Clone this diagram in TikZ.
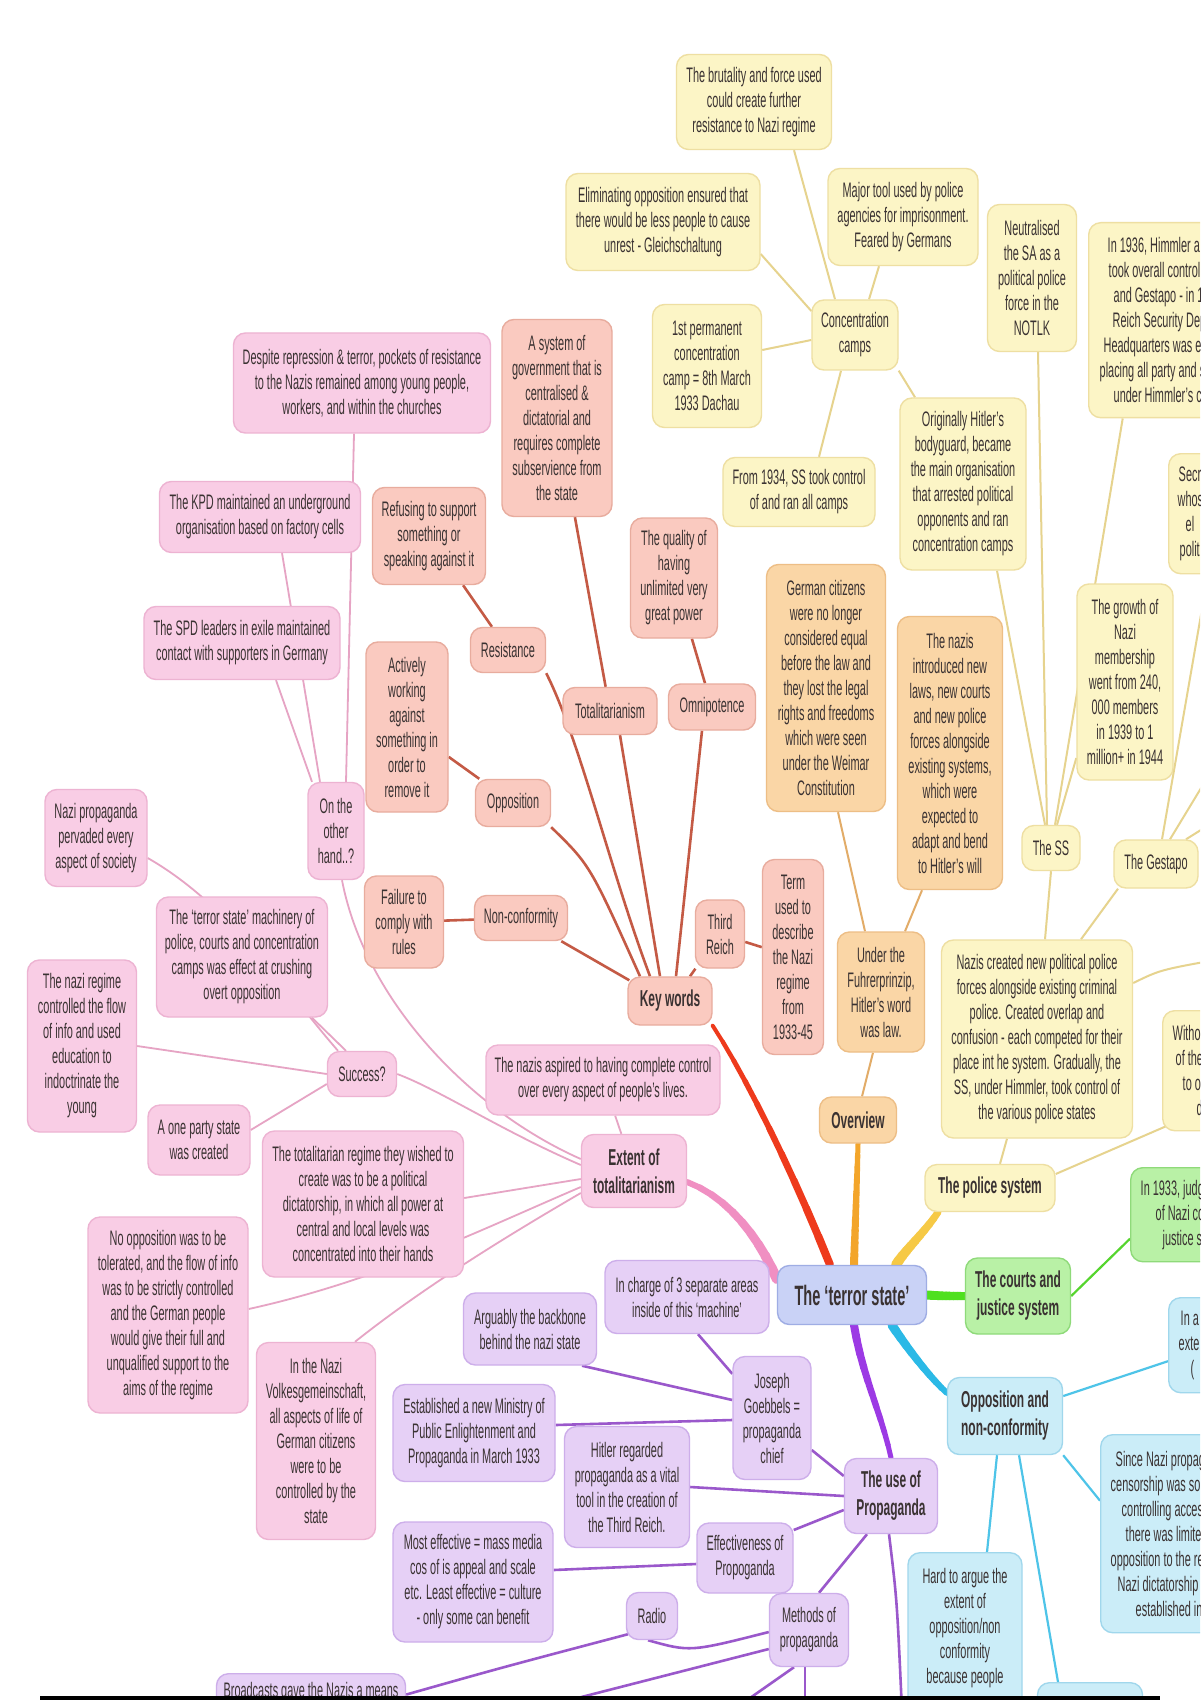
\documentclass[tikz,border=0pt]{standalone}
\usepackage{fontspec}
\setmainfont[FakeStretch=0.52]{Liberation Sans}
\pgfdeclarelayer{bg}
\pgfsetlayers{bg,main}
\definecolor{txt}{HTML}{3A3232}
\definecolor{yfill}{HTML}{FCF5C6}
\definecolor{ydraw}{HTML}{EEDFA2}
\definecolor{ofill}{HTML}{FAD6A6}
\definecolor{odraw}{HTML}{EDBE86}
\definecolor{sfill}{HTML}{FACAC0}
\definecolor{sdraw}{HTML}{E8AC9E}
\definecolor{pfill}{HTML}{F9CDE5}
\definecolor{pdraw}{HTML}{EDB3D2}
\definecolor{ufill}{HTML}{E6D0F6}
\definecolor{udraw}{HTML}{CDAEEA}
\definecolor{gfill}{HTML}{B9F1A6}
\definecolor{gdraw}{HTML}{8FDA7A}
\definecolor{lfill}{HTML}{CBEDF8}
\definecolor{ldraw}{HTML}{A0D7EC}
\definecolor{cfill}{HTML}{C9D2F6}
\definecolor{cdraw}{HTML}{9FADE4}
\definecolor{salc}{HTML}{C45A45}
\definecolor{pnkc}{HTML}{E6A4C4}
\definecolor{purc}{HTML}{9A58CB}
\definecolor{yelc}{HTML}{E6D38E}
\definecolor{orgc}{HTML}{E2AC68}
\definecolor{bluc}{HTML}{4EC4E8}
\definecolor{grnc}{HTML}{55D52E}
\definecolor{redM}{HTML}{EE3A1C}
\definecolor{orgM}{HTML}{F3A52A}
\definecolor{yelM}{HTML}{F6C945}
\definecolor{grnM}{HTML}{4FE01F}
\definecolor{cyaM}{HTML}{2BB9E6}
\definecolor{purM}{HTML}{9C3AE4}
\definecolor{pnkM}{HTML}{F08FC2}
\newcommand\mmsmall{\fontsize{10.5}{12.5}\selectfont}
\newcommand\mmbold{\fontsize{11.5}{14}\selectfont\bfseries}
\newcommand\mmroot{\fontsize{14}{16}\selectfont\bfseries}
\newcommand\taperline[7]{%
  \path #2 .. controls #3 and #4 .. #5
    coordinate[pos=0] (tp0) coordinate[pos=0.1] (tp1) coordinate[pos=0.2] (tp2)
    coordinate[pos=0.3] (tp3) coordinate[pos=0.4] (tp4) coordinate[pos=0.5] (tp5)
    coordinate[pos=0.6] (tp6) coordinate[pos=0.7] (tp7) coordinate[pos=0.8] (tp8)
    coordinate[pos=0.9] (tp9) coordinate[pos=1] (tp10);
  \foreach \i/\j in {0/1,1/2,2/3,3/4,4/5,5/6,6/7,7/8,8/9,9/10}{%
    \pgfmathsetmacro\tw{(#6+(#7-#6)*\i/9)*0.5}%
    \draw[#1, line width=\tw pt, line cap=round] (tp\i) -- (tp\j);}%
}
\tikzset{
  sz/.style 2 args={minimum width=#1*0.5pt, minimum height=#2*0.5pt},
  mmbase/.style={rounded corners=6pt, align=center, font=\mmsmall, text=txt, inner sep=1pt, line width=0.7pt},
  ybox/.style={mmbase, fill=yfill, draw=ydraw},
  obox/.style={mmbase, fill=ofill, draw=odraw},
  sbox/.style={mmbase, fill=sfill, draw=sdraw},
  pbox/.style={mmbase, fill=pfill, draw=pdraw},
  ubox/.style={mmbase, fill=ufill, draw=udraw},
  gbox/.style={mmbase, fill=gfill, draw=gdraw},
  lbox/.style={mmbase, fill=lfill, draw=ldraw},
  hd/.style={font=\mmbold},
  cutbox/.style={align=flush left, anchor=north west},
  salL/.style={draw=salc, line width=1.3pt},
  pnkL/.style={draw=pnkc, line width=0.9pt},
  purL/.style={draw=purc, line width=1.3pt},
  yelL/.style={draw=yelc, line width=1pt},
  orgL/.style={draw=orgc, line width=1pt},
  bluL/.style={draw=bluc, line width=1.1pt},
  grnL/.style={draw=grnc, line width=1.1pt}
}
\begin{document}
\begin{tikzpicture}[x=0.5pt,y=-0.5pt]
\useasboundingbox (0,0) rectangle (1200,1700);
\clip (0,0) rectangle (1200,1700);

% ---------- yellow: police system ----------
\node[ybox, sz={155}{95}] (brut) at (754,102) {The brutality and force used\\could create further\\resistance to Nazi regime};
\node[ybox, sz={194}{97}] (elim) at (663,222) {Eliminating opposition ensured that\\there would be less people to cause\\unrest - Gleichschaltung};
\node[ybox, sz={150}{97}] (major) at (903,217) {Major tool used by police\\agencies for imprisonment.\\Feared by Germans};
\node[ybox, sz={86}{70}] (cc) at (855,335) {Concentration\\camps};
\node[ybox, sz={109}{123}] (first) at (707,366) {1st permanent\\concentration\\camp = 8th March\\1933 Dachau};
\node[ybox, sz={89}{147}] (neut) at (1032,278) {Neutralised\\the SA as a\\political police\\force in the\\NOTLK};
\node[ybox, cutbox, sz={10}{195}, inner xsep=5.5pt, text width=75pt] (himm) at (1088,222) {\hspace*{4pt}In 1936, Himmler a\\\hspace*{4.5pt}took overall control\\\hspace*{7pt}and Gestapo - in 1\\\hspace*{6.5pt}Reich Security Dep\\\hspace*{2pt}Headquarters was e\\placing all party and s\\\hspace*{7pt}under Himmler's c};
\node[ybox, sz={152}{69}] (from34) at (799,492) {From 1934, SS took control\\of and ran all camps};
\node[ybox, sz={126}{172}] (orig) at (963,484) {Originally Hitler's\\bodyguard, became\\the main organisation\\that arrested political\\opponents and ran\\concentration camps};
\node[ybox, sz={58}{45}] (ss) at (1051,848) {The SS};
\node[ybox, sz={96}{196}] (growth) at (1125,682) {The growth of\\Nazi\\membership\\went from 240,\\000 members\\in 1939 to 1\\million+ in 1944};
\node[ybox, sz={84}{48}] (gest) at (1156,864) {The Gestapo};
\node[ybox, cutbox, sz={10}{120}, inner xsep=4.5pt, text width=60pt] (secr) at (1168,453) {\hspace*{0.5pt}Secr\\whos\\\hspace*{4pt}el\\\hspace*{1pt}polit};
\node[ybox, sz={191}{198}] (nazcr) at (1037,1039) {Nazis created new political police\\forces alongside existing criminal\\police. Created overlap and\\confusion - each competed for their\\place int he system. Gradually, the\\SS, under Himmler, took control of\\the various police states};
\node[ybox, cutbox, sz={10}{120}, inner xsep=5pt, text width=60pt] (withx) at (1162,1010) {Witho\\\hspace*{1.5pt}of the\\\hspace*{5pt}to o\\\hspace*{12pt}d};
\node[ybox, hd, sz={130}{47}] (police) at (990,1188) {The police system};

% ---------- orange: overview ----------
\node[obox, sz={119}{247}] (germ) at (826,688) {German citizens\\were no longer\\considered equal\\before the law and\\they lost the legal\\rights and freedoms\\which were seen\\under the Weimar\\Constitution};
\node[obox, sz={105}{273}] (introd) at (950,753) {The nazis\\introduced new\\laws, new courts\\and new police\\forces alongside\\existing systems,\\which were\\expected to\\adapt and bend\\to Hitler's will};
\node[obox, sz={87}{120}] (under) at (881,992) {Under the\\Fuhrerprinzip,\\Hitler's word\\was law.};
\node[obox, hd, sz={77}{46}] (overview) at (858,1120) {Overview};

% ---------- root ----------
\node[mmbase, fill=cfill, draw=cdraw, font=\mmroot, sz={149}{59}] (root) at (852,1295) {The `terror state'};

% ---------- green ----------
\node[gbox, hd, sz={105}{76}] (courts) at (1018,1296) {The courts and\\justice system};
\node[gbox, cutbox, sz={10}{94}, inner xsep=5pt, text width=60pt] (in1933) at (1130,1167) {In 1933, judg\\\hspace*{7.5pt}of Nazi co\\\hspace*{11pt}justice s};

% ---------- blue ----------
\node[lbox, hd, sz={115}{77}] (opp) at (1005,1416) {Opposition and\\non-conformity};
\node[lbox, cutbox, sz={10}{95}, inner xsep=5pt, text width=40pt] (ina) at (1168,1297) {\hspace*{1pt}In a\\exte\\\hspace*{6pt}(};
\node[lbox, cutbox, sz={10}{198}, inner xsep=5pt, text width=80pt] (since) at (1100,1434) {\hspace*{2.5pt}Since Nazi propag\\censorship was so\\\hspace*{5.5pt}controlling acces\\\hspace*{7.5pt}there was limite\\opposition to the re\\\hspace*{3.5pt}Nazi dictatorship\\\hspace*{12.5pt}established in};
\node[lbox, anchor=north, sz={114}{10}, inner ysep=8pt] (hard) at (965,1552) {Hard to argue the\\extent of\\opposition/non\\conformity\\because people\\\strut};
\node[lbox, anchor=north, sz={105}{40}] (bsmall) at (1090,1682) {};

% ---------- purple ----------
\node[ubox, hd, sz={93}{75}] (useprop) at (891,1496) {The use of\\Propaganda};
\node[ubox, sz={164}{73}] (incharge) at (687,1297) {In charge of 3 separate areas\\inside of this `machine'};
\node[ubox, sz={133}{72}] (arguably) at (530,1329) {Arguably the backbone\\behind the nazi state};
\node[ubox, sz={78}{123}] (joseph) at (772,1418) {Joseph\\Goebbels =\\propaganda\\chief};
\node[ubox, sz={162}{97}] (establ) at (474,1433) {Established a new Ministry of\\Public Enlightenment and\\Propaganda in March 1933};
\node[ubox, sz={125}{121}] (hitler) at (627,1487) {Hitler regarded\\propaganda as a vital\\tool in the creation of\\the Third Reich.};
\node[ubox, sz={160}{120}] (most) at (473,1582) {Most effective = mass media\\cos of is appeal and scale\\etc. Least effective = culture\\- only some can benefit};
\node[ubox, sz={96}{70}] (effect) at (745,1558) {Effectiveness of\\Propoganda};
\node[ubox, sz={51}{47}] (radio) at (652,1616) {Radio};
\node[ubox, sz={79}{73}] (methods) at (809,1630) {Methods of\\propaganda};
\node[ubox, anchor=north, sz={189}{10}, inner ysep=4.5pt] (broad) at (311,1673) {Broadcasts gave the Nazis a means\\\strut};

% ---------- pink ----------
\node[pbox, hd, sz={105}{73}] (extent) at (634,1171) {Extent of\\totalitarianism};
\node[pbox, sz={234}{70}] (aspired) at (603,1080) {The nazis aspired to having complete control\\over every aspect of people's lives.};
\node[pbox, sz={201}{146}] (totreg) at (363,1204) {The totalitarian regime they wished to\\create was to be a political\\dictatorship, in which all power at\\central and local levels was\\concentrated into their hands};
\node[pbox, sz={160}{196}] (noopp) at (168,1315) {No opposition was to be\\tolerated, and the flow of info\\was to be strictly controlled\\and the German people\\would give their full and\\unqualified support to the\\aims of the regime};
\node[pbox, sz={119}{197}] (volk) at (316,1441) {In the Nazi\\Volkesgemeinschaft,\\all aspects of life of\\German citizens\\were to be\\controlled by the\\state};
\node[pbox, sz={69}{45}] (success) at (362,1074) {Success?};
\node[pbox, sz={171}{120}] (machinery) at (242,957) {The `terror state' machinery of\\police, courts and concentration\\camps was effect at crushing\\overt opposition};
\node[pbox, sz={109}{172}] (nazireg) at (82,1046) {The nazi regime\\controlled the flow\\of info and used\\education to\\indoctrinate the\\young};
\node[pbox, sz={102}{70}] (oneparty) at (199,1140) {A one party state\\was created};
\node[pbox, sz={102}{97}] (pervaded) at (96,838) {Nazi propaganda\\pervaded every\\aspect of society};
\node[pbox, sz={56}{97}] (otherhand) at (336,831) {On the\\other\\hand..?};
\node[pbox, sz={196}{73}] (spd) at (242,643) {The SPD leaders in exile maintained\\contact with supporters in Germany};
\node[pbox, sz={201}{71}] (kpd) at (260,517) {The KPD maintained an underground\\organisation based on factory cells};
\node[pbox, sz={257}{100}] (despite) at (362,383) {Despite repression \& terror, pockets of resistance\\to the Nazis remained among young people,\\workers, and within the churches};

% ---------- salmon: key words ----------
\node[sbox, hd, sz={84}{48}] (keywords) at (670,1001) {Key words};
\node[sbox, sz={110}{197}] (system) at (557,418) {A system of\\government that is\\centralised \&\\dictatorial and\\requires complete\\subservience from\\the state};
\node[sbox, sz={113}{97}] (refusing) at (429,536) {Refusing to support\\something or\\speaking against it};
\node[sbox, sz={75}{45}] (resistance) at (508,650) {Resistance};
\node[sbox, sz={87}{120}] (quality) at (674,578) {The quality of\\having\\unlimited very\\great power};
\node[sbox, sz={94}{47}] (totalit) at (610,711) {Totalitarianism};
\node[sbox, sz={87}{46}] (omni) at (712,707) {Omnipotence};
\node[sbox, sz={82}{170}] (actively) at (407,727) {Actively\\working\\against\\something in\\order to\\remove it};
\node[sbox, sz={75}{47}] (opposition) at (513,803) {Opposition};
\node[sbox, sz={79}{92}] (failure) at (404,922) {Failure to\\comply with\\rules};
\node[sbox, sz={93}{45}] (nonconf) at (521,918) {Non-conformity};
\node[sbox, sz={49}{68}] (third) at (720,934) {Third\\Reich};
\node[sbox, sz={61}{195}] (term) at (793,957) {Term\\used to\\describe\\the Nazi\\regime\\from\\1933-45};

% off-picture ends
\coordinate (offr1) at (1215,960);
\coordinate (offr2) at (1215,765);
\coordinate (offr3) at (1220,818);
\coordinate (offb1) at (902,1712);
\coordinate (offb2) at (730,1712);
\coordinate (offb3) at (805,1712);
\coordinate (offb4) at (523,1712);

% bottom bar
\fill[black] (40,1696) rectangle (1160,1700);

\begin{pgfonlayer}{bg}
\fill[white] (0,0) rectangle (1200,1700);
\clip (0,0) rectangle (1200,1700);
% main branches
\taperline{redM}{(keywords.south east)}{(745,1075)}{(792,1170)}{([xshift=-11pt]root.north)}{4}{8}
\taperline{orgM}{(overview.south)}{(857,1180)}{(855,1230)}{([xshift=1pt]root.north)}{5}{8}
\taperline{yelM}{([xshift=-26pt]police.south)}{(925,1232)}{(905,1250)}{([xshift=22pt]root.north)}{7}{10}
\taperline{grnM}{(courts.west)}{(952,1296)}{(940,1296)}{(root.east)}{8}{9}
\taperline{cyaM}{([yshift=-8pt]opp.north west)}{(930,1378)}{(905,1345)}{([xshift=20pt]root.south)}{6}{9}
\taperline{purM}{(useprop.north)}{(882,1415)}{(862,1375)}{([xshift=1pt]root.south)}{5}{8}
\taperline{pnkM}{([yshift=-5.5pt]extent.east)}{(730,1198)}{(760,1240)}{([yshift=8pt]root.west)}{6}{10}

% salmon
\draw[salL] (refusing) -- (resistance);
\draw[salL] (system) -- (totalit);
\draw[salL] (quality) -- (omni);
\draw[salL] (actively) -- (opposition);
\draw[salL] (failure) -- (nonconf);
\draw[salL] (term) -- (third);
\draw[salL] (resistance.south east) .. controls (580,740) and (610,870) .. ([xshift=-10pt]keywords.north);
\draw[salL] ([xshift=5pt]totalit.south) -- ([xshift=-5pt]keywords.north);
\draw[salL] ([xshift=-5pt]omni.south) -- ([xshift=3pt]keywords.north);
\draw[salL] (opposition.south east) .. controls (590,865) .. ([xshift=-15pt]keywords.north);
\draw[salL] (nonconf) -- ([xshift=1pt,yshift=-2pt]keywords.north west);
\draw[salL] (third) -- ([xshift=10pt]keywords.north);

% orange
\draw[orgL] ([xshift=2pt]overview.north) -- ([xshift=-4pt]under.south);
\draw[orgL] ([xshift=-8pt]under.north) -- ([xshift=6pt]germ.south);
\draw[orgL] ([xshift=12pt]under.north) -- ([xshift=-14pt]introd.south);

% yellow
\draw[yelL] ([xshift=-10pt]cc.north) -- ([xshift=20pt]brut.south);
\draw[yelL] ([yshift=12pt]cc.west) -- ([yshift=-16pt]elim.east);
\draw[yelL] ([xshift=7pt]cc.north) -- ([xshift=-12pt]major.south);
\draw[yelL] ([yshift=-2.5pt]cc.west) -- ([yshift=8pt]first.east);
\draw[yelL] ([xshift=-7pt]cc.south) -- ([xshift=10pt]from34.north);
\draw[yelL] (cc.south east) -- ([xshift=-24pt]orig.north);
\draw[yelL] ([xshift=17pt]orig.south) -- ([xshift=-3pt]ss.north);
\draw[yelL] ([xshift=3pt]neut.south) -- ([xshift=-2pt]ss.north);
\draw[yelL] ([xshift=2pt]ss.north) -- ([xshift=-26pt]himm.south);
\draw[yelL] ([xshift=3pt]ss.north) -- ([yshift=-38pt]growth.west);
\draw[yelL] ([xshift=4pt]nazcr.north) -- (ss.south);
\draw[yelL] ([xshift=22pt]nazcr.north) -- ([xshift=-19pt]gest.south);
\draw[yelL] ([xshift=3pt]gest.north) -- ([xshift=20pt]secr.south west);
\draw[yelL] ([xshift=7pt]gest.north) -- (offr2);
\draw[yelL] ([xshift=15pt]gest.north) -- (offr3);
\draw[yelL] ([yshift=28pt]nazcr.east) .. controls (1160,970) .. (offr1);
\draw[yelL] ([xshift=5pt]police.north) -- ([xshift=-15pt]nazcr.south);
\draw[yelL] ([yshift=7pt]police.east) -- ([xshift=3pt,yshift=3pt]withx.south west);

% green
\draw[grnL] (courts.east) -- ([yshift=-12pt]in1933.west);

% blue
\draw[bluL] ([yshift=10pt]opp.east) -- ([yshift=-8pt]ina.west);
\draw[bluL] (opp.south east) -- ([yshift=16.5pt]since.west);
\draw[bluL] ([xshift=-4pt]opp.south) -- ([xshift=11pt]hard.north);
\draw[bluL] ([xshift=7pt]opp.south) -- ([xshift=-16pt]bsmall.north);

% purple
\draw[purL] ([xshift=5.5pt]incharge.south) -- ([yshift=-9pt]joseph.north west);
\draw[purL] ([xshift=26pt]arguably.south) -- ([yshift=9pt]joseph.west);
\draw[purL] ([yshift=4pt]establ.east) -- ([yshift=-1pt]joseph.west);
\draw[purL] ([yshift=-16pt]joseph.east) -- ([yshift=10pt]useprop.west);
\draw[purL] (hitler.east) -- (useprop.west);
\draw[purL] ([yshift=14pt]effect.east) -- ([yshift=-7pt]useprop.west);
\draw[purL] ([yshift=6pt]most.east) -- ([yshift=-3pt]effect.west);
\draw[purL] ([xshift=-2pt]radio.south) .. controls (690,1652) .. ([yshift=-1pt]methods.west);
\draw[purL] ([xshift=5pt]methods.north) -- ([xshift=-12pt]useprop.south);
\draw[purL] ([yshift=6pt]broad.east) .. controls (500,1668) .. ([xshift=-12pt,yshift=3pt]radio.south);
\draw[purL] ([xshift=-1pt]useprop.south) .. controls (897,1600) .. (offb1);
\draw[purL] ([xshift=-7.5pt]methods.south) -- (offb2);
\draw[purL] ([xshift=-2pt]methods.south) -- (offb3);
\draw[purL] ([yshift=-9.5pt]methods.west) -- (offb4);

% pink
\draw[pnkL] (extent) -- (aspired);
\draw[pnkL] ([yshift=6pt]extent.west) .. controls (470,1110) and (365,1000) .. ([xshift=3pt]otherhand.south);
\draw[pnkL] ([yshift=3pt]extent.west) .. controls (500,1130) and (440,1090) .. (success.east);
\draw[pnkL] ([yshift=-4pt]extent.west) -- ([yshift=3pt]totreg.east);
\draw[pnkL] ([yshift=-8pt]extent.west) .. controls (480,1230) and (380,1280) .. ([yshift=3pt]noopp.east);
\draw[pnkL] ([yshift=-11pt]extent.west) .. controls (500,1240) and (420,1290) .. ([xshift=19.5pt]volk.north);
\draw[pnkL] ([yshift=-10pt]pervaded.east) .. controls (230,905) and (285,990) .. ([xshift=-12pt]success.north);
\draw[pnkL] ([xshift=35pt]machinery.south) -- ([xshift=-8pt]success.north);
\draw[pnkL] (nazireg.east) -- (success.west);
\draw[pnkL] ([yshift=5pt]oneparty.east) -- ([yshift=-5pt]success.west);
\draw[pnkL] ([xshift=5pt]otherhand.north) -- ([xshift=-4pt]despite.south);
\draw[pnkL] ([xshift=11pt]kpd.south) -- ([xshift=-8pt]otherhand.north);
\draw[pnkL] ([xshift=17pt]spd.south) -- ([xshift=-12pt]otherhand.north);
\end{pgfonlayer}
\end{tikzpicture}
\end{document}
